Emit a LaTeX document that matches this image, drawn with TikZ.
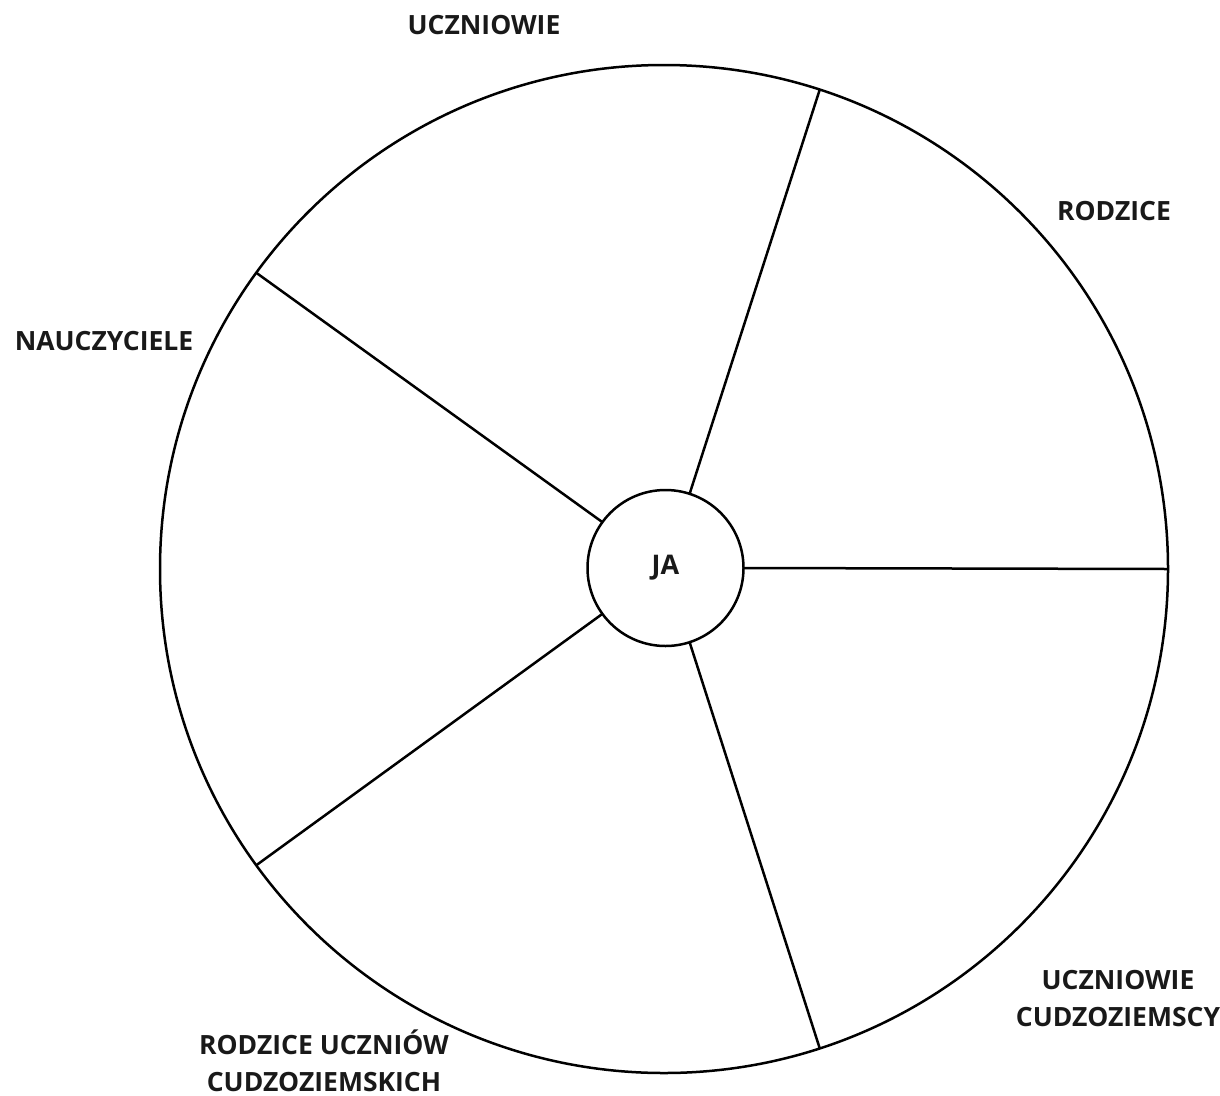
\documentclass[tikz,border=0pt]{standalone}
\usepackage{fontspec}
\setmainfont{Open Sans}
\begin{document}
\begin{tikzpicture}[x=1pt,y=-1pt,
  lbl/.style={font=\fontsize{26.5}{37}\selectfont\bfseries, text=black!90, align=center, inner sep=0pt, anchor=base},
  ring/.style={draw, circle, line width=2.5pt, outer sep=0pt, inner sep=0pt}]
\useasboundingbox (0,0) rectangle (1220,1095);
\node[ring, minimum size=1008pt] (outer) at (664,569) {};
\node[ring, minimum size=156pt, fill=white, font=\fontsize{27}{30}\selectfont\bfseries, text=black!90] (ja) at (665.5,568) {JA};
\foreach \a in {0,72,144,216,288}
  \draw[line width=2.5pt] (ja.\a) -- (outer.\a);
\node[lbl] (l1) at (484,34) {UCZNIOWIE};
\node[lbl] (l2) at (1114,220) {RODZICE};
\node[lbl] (l3) at (104,350) {NAUCZYCIELE};
\node[lbl] (l4) at (1118,1026) {UCZNIOWIE\\CUDZOZIEMSCY};
\node[lbl] (l5) at (324,1091) {RODZICE UCZNIÓW\\CUDZOZIEMSKICH};
\end{tikzpicture}
\end{document}
